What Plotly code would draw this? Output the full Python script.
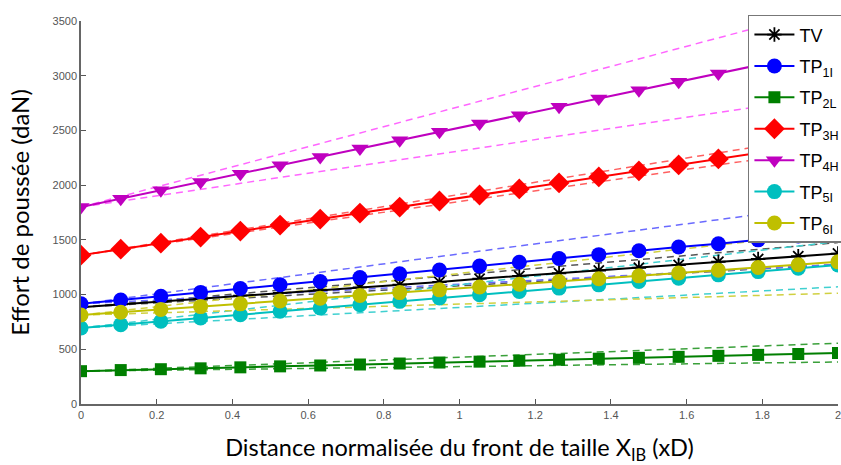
import plotly.graph_objects as go

# x positions of the markers (normalised distance, xD)
X = [0.0, 0.105, 0.211, 0.316, 0.421, 0.526, 0.632, 0.737, 0.842, 0.947,
     1.053, 1.158, 1.263, 1.368, 1.474, 1.579, 1.684, 1.789, 1.895, 2.0]
# x positions for the dashed bound lines
XB = [0.0, 0.5, 1.0, 1.5, 2.0]

names = ["TV", "TP<sub>1I</sub>", "TP<sub>2L</sub>", "TP<sub>3H</sub>",
         "TP<sub>4H</sub>", "TP<sub>5I</sub>", "TP<sub>6I</sub>"]

TV = [885, 910, 935, 960, 990, 1015, 1040, 1065, 1090, 1115,
      1145, 1170, 1195, 1220, 1245, 1270, 1300, 1325, 1350, 1375]
TP1I = [915, 950, 985, 1020, 1055, 1090, 1120, 1155, 1190, 1225,
        1260, 1295, 1330, 1365, 1400, 1435, 1465, 1500, 1535, 1570]
TP2L = [300, 310, 318, 326, 335, 344, 352, 361, 370, 379,
        387, 396, 405, 414, 422, 431, 440, 449, 457, 466]
TP3H = [1360, 1415, 1470, 1525, 1580, 1635, 1690, 1745, 1800, 1855,
        1910, 1965, 2020, 2075, 2130, 2185, 2240, 2295, 2350, 2405]
TP4H = [1800, 1876, 1953, 2029, 2105, 2182, 2258, 2334, 2411, 2487,
        2563, 2639, 2716, 2792, 2868, 2945, 3021, 3097, 3174, 3250]
TP5I = [695, 725, 756, 786, 816, 847, 877, 907, 938, 968,
        998, 1029, 1059, 1089, 1119, 1150, 1180, 1210, 1241, 1271]
TP6I = [813, 839, 864, 890, 915, 941, 966, 992, 1018, 1043,
        1069, 1094, 1120, 1145, 1171, 1197, 1222, 1248, 1273, 1299]

# dashed upper / lower bounds
TV_up = [885, 1032, 1180, 1327, 1475]
TV_lo = [885, 982, 1080, 1177, 1275]
TP1I_up = [915, 1143, 1372, 1600, 1829]
TP1I_lo = [915, 1005, 1095, 1185, 1275]
TP2L_up = [300, 364, 428, 492, 556]
TP2L_lo = [300, 321, 342, 363, 384]
TP3H_up = [1360, 1638, 1915, 2193, 2470]
TP3H_lo = [1360, 1605, 1850, 2095, 2340]
TP4H_up = [1800, 2259, 2718, 3177, 3636]
TP4H_lo = [1800, 2057, 2313, 2570, 2826]
TP5I_up = [695, 893, 1090, 1288, 1485]
TP5I_lo = [695, 789, 883, 977, 1071]
TP6I_up = [813, 1003, 1193, 1383, 1573]
TP6I_lo = [813, 863, 913, 963, 1013]

XTICKS = [0, 0.2, 0.4, 0.6, 0.8, 1, 1.2, 1.4, 1.6, 1.8, 2]
XTICKTEXT = ["0", "0.2", "0.4", "0.6", "0.8", "1", "1.2", "1.4", "1.6", "1.8", "2"]
YTICKS = [0, 500, 1000, 1500, 2000, 2500, 3000, 3500]

series = [TV, TP1I, TP2L, TP3H, TP4H, TP5I, TP6I]
ups = [TV_up, TP1I_up, TP2L_up, TP3H_up, TP4H_up, TP5I_up, TP6I_up]
los = [TV_lo, TP1I_lo, TP2L_lo, TP3H_lo, TP4H_lo, TP5I_lo, TP6I_lo]
colors = ["#000000", "#0000ff", "#007f00", "#ff0000", "#bf00bf", "#00bfbf", "#bfbf00"]
dash_colors = ["#555555", "#6a6aff", "#3aa03a", "#ff6060", "#ff66ff", "#40d0d0", "#d0d040"]
symbols = ["asterisk-open", "circle", "square", "diamond", "triangle-down", "circle", "circle"]
sizes = [12, 15, 12, 16, 15, 15, 15]

fig = go.Figure()

for up, lo, dc in zip(ups, los, dash_colors):
    for b in (up, lo):
        fig.add_trace(go.Scatter(x=XB, y=b, mode="lines", showlegend=False,
                                 hoverinfo="skip",
                                 line=dict(color=dc, width=1.5, dash="7px,5px")))

for i, (s, n, c, sym, sz) in enumerate(zip(series, names, colors, symbols, sizes)):
    fig.add_trace(go.Scatter(
        x=X, y=s, name=n, mode="lines+markers", legendgroup=f"g{i}",
        line=dict(color=c, width=2),
        marker=dict(symbol=sym, size=sz, color=c,
                    line=dict(color=c, width=1.8 if sym == "asterisk-open" else 0)),
    ))

fig.update_layout(
    width=841, height=465,
    margin=dict(l=81, r=3, t=21, b=61, autoexpand=False),
    paper_bgcolor="white", plot_bgcolor="white",
    font=dict(family="Liberation Sans, Arial, sans-serif", color="#000"),
    showlegend=True,
    legend=dict(x=0.881, y=1.016, xanchor="left", yanchor="top",
                bgcolor="white", bordercolor="#777", borderwidth=1.5,
                font=dict(size=18, color="#000", family="Liberation Sans, Arial, sans-serif"),
                traceorder="grouped", tracegroupgap=5, itemwidth=40),
    xaxis=dict(range=[0, 2], tickvals=XTICKS, ticktext=XTICKTEXT,
               ticks="inside", ticklen=5, tickcolor="#555", tickwidth=1,
               showline=True, linecolor="#666", linewidth=1.5,
               showgrid=False, zeroline=False, ticklabeloverflow="allow",
               tickfont=dict(size=11, color="#555"),
               title=dict(text="Distance normalisée du front de taille X<sub>IB</sub> (xD)",
                          font=dict(size=23.5, color="#000", family="Lato, sans-serif"),
                          standoff=29)),
    yaxis=dict(range=[0, 3500], tickvals=YTICKS,
               ticks="inside", ticklen=5, tickcolor="#555", tickwidth=1,
               showline=True, linecolor="#666", linewidth=1.5,
               showgrid=False, zeroline=False,
               tickfont=dict(size=11, color="#555"),
               title=dict(text="Effort de poussée (daN)",
                          font=dict(size=24, color="#000", family="Lato, sans-serif"),
                          standoff=16)),
)

fig.write_html("out.html", config={"displayModeBar": False},
               post_script="document.body.style.margin='0';")
